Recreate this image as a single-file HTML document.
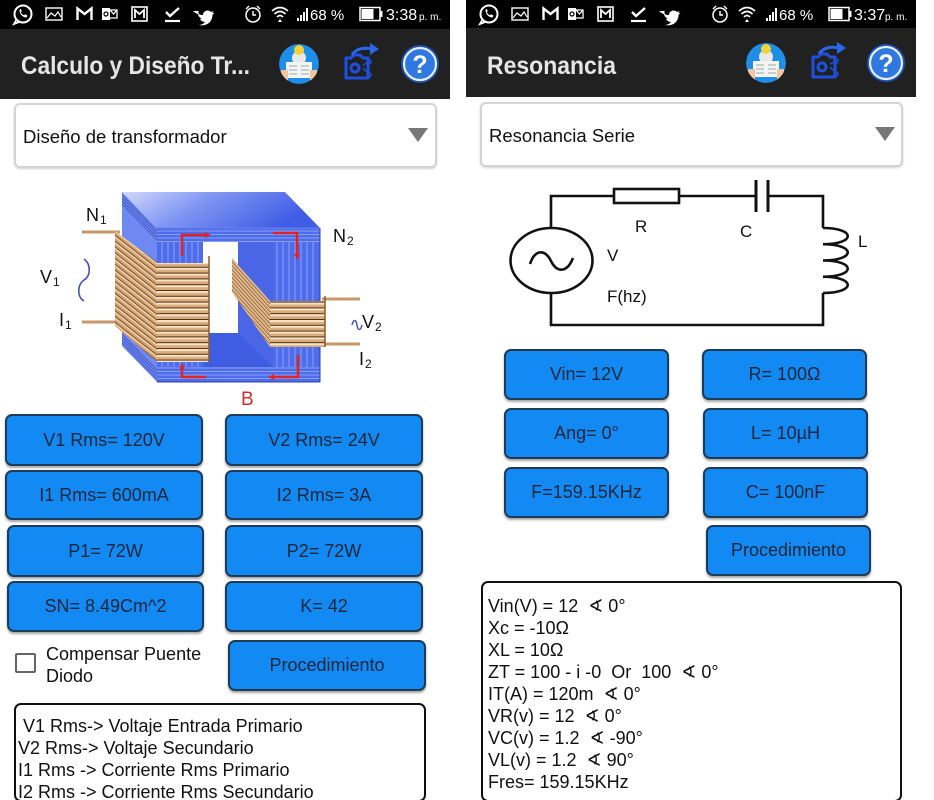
<!DOCTYPE html>
<html><head><meta charset="utf-8">
<style>
*{margin:0;padding:0;box-sizing:border-box}
html{width:934px;height:800px;overflow:hidden}
body{width:934px;height:800px;background:#fff;position:relative;overflow:hidden;font-family:"Liberation Sans","DejaVu Sans",sans-serif}
.sb{position:absolute;top:0;height:29px;background:#000}
.ab{position:absolute;background:#212121}
.spin{position:absolute;border:2px solid #d4d4d4;border-radius:6px;background:#fff;box-shadow:0 1px 2px rgba(0,0,0,.18)}
.btn{position:absolute;background:#1289f3;border:2px solid #1e3b58;border-radius:7px;box-shadow:0 2px 2px rgba(0,0,0,.35);color:#14273a;font-size:18px;display:flex;align-items:center;justify-content:center;white-space:nowrap}
.box{position:absolute;border:2px solid #111;border-radius:7px;background:#fff}
.cb{position:absolute;border:2px solid #666;border-radius:2px;background:#fff}
svg{position:absolute;left:0;top:0}
</style></head><body>

<!-- left panel chrome -->
<div class="sb" style="left:0;width:450px"></div>
<div class="ab" style="left:0;top:29px;width:450px;height:70px"></div>
<!-- right panel chrome -->
<div class="sb" style="left:466px;width:450px;height:28px"></div>
<div class="ab" style="left:466px;top:28px;width:450px;height:69px"></div>

<div class="spin" style="left:14px;top:103px;width:423px;height:65px"></div>
<div class="spin" style="left:480px;top:102px;width:423px;height:65px"></div>

<!-- left buttons -->
<div class="btn" style="left:5px;top:414px;width:198px;height:52px">V1 Rms= 120V</div>
<div class="btn" style="left:225px;top:414px;width:198px;height:52px">V2 Rms= 24V</div>
<div class="btn" style="left:5px;top:470px;width:198px;height:50px">I1 Rms= 600mA</div>
<div class="btn" style="left:225px;top:470px;width:198px;height:50px">I2 Rms= 3A</div>
<div class="btn" style="left:7px;top:525px;width:197px;height:52px">P1= 72W</div>
<div class="btn" style="left:225px;top:525px;width:198px;height:52px">P2= 72W</div>
<div class="btn" style="left:7px;top:581px;width:197px;height:51px">SN= 8.49Cm^2</div>
<div class="btn" style="left:225px;top:581px;width:198px;height:51px">K= 42</div>
<div class="btn" style="left:228px;top:640px;width:198px;height:51px">Procedimiento</div>
<div class="cb" style="left:15px;top:653px;width:21px;height:20px"></div>

<!-- right buttons -->
<div class="btn" style="left:504px;top:349px;width:165px;height:51px">Vin= 12V</div>
<div class="btn" style="left:702px;top:349px;width:165px;height:51px">R= 100Ω</div>
<div class="btn" style="left:504px;top:408px;width:165px;height:51px">Ang= 0°</div>
<div class="btn" style="left:703px;top:408px;width:165px;height:51px">L= 10µH</div>
<div class="btn" style="left:504px;top:467px;width:165px;height:51px">F=159.15KHz</div>
<div class="btn" style="left:703px;top:467px;width:165px;height:51px">C= 100nF</div>
<div class="btn" style="left:706px;top:525px;width:165px;height:51px">Procedimiento</div>

<div class="box" style="left:14px;top:703px;width:412px;height:99px"></div>
<div class="box" style="left:481px;top:581px;width:421px;height:221px"></div>

<svg width="934" height="800" viewBox="0 0 934 800" xmlns="http://www.w3.org/2000/svg" font-family="Liberation Sans, DejaVu Sans, sans-serif">
<defs>
  <linearGradient id="topG" x1="0" y1="0" x2="1" y2="0.3">
    <stop offset="0" stop-color="#d2d9fc"/>
    <stop offset="0.45" stop-color="#7f95f2"/>
    <stop offset="1" stop-color="#3f5de6"/>
  </linearGradient>
  <pattern id="coilH" width="10" height="5.8" patternUnits="userSpaceOnUse">
    <rect width="10" height="5.8" fill="#dcab78"/>
    <rect y="0" width="10" height="1" fill="#4a3018"/>
    <rect y="1" width="10" height="2" fill="#f7e3c8"/>
  </pattern>
  <pattern id="coilS" width="10" height="5.8" patternUnits="userSpaceOnUse" patternTransform="skewY(38)">
    <rect width="10" height="5.8" fill="#d4a06c"/>
    <rect y="0" width="10" height="1" fill="#5a3a1e"/>
    <rect y="1" width="10" height="2" fill="#efd2ae"/>
  </pattern>
  <pattern id="coilS2" width="10" height="4" patternUnits="userSpaceOnUse" patternTransform="skewY(48)">
    <rect width="10" height="4" fill="#d4a06c"/>
    <rect y="0" width="10" height="0.8" fill="#5a3a1e"/>
    <rect y="0.8" width="10" height="1.4" fill="#efd2ae"/>
  </pattern>
  <marker id="ah" markerWidth="6" markerHeight="6" refX="3" refY="3" orient="auto" markerUnits="userSpaceOnUse">
    <path d="M0,0 L6,3 L0,6z" fill="#e02424"/>
  </marker>
  <clipPath id="av1"><circle cx="299" cy="64" r="20"/></clipPath>
  <clipPath id="av2"><circle cx="766" cy="63" r="20"/></clipPath>
</defs>

<!-- ===== STATUS BAR LEFT ===== -->
<g fill="none" stroke="#fff">
  <circle cx="23" cy="14" r="8.5" stroke-width="2"/>
  <path d="M16.5,19.5 L14,24 L19,22" stroke-width="1.8"/>
  <path d="M19.5,10 c0,4 3,7.5 7,7.5 l1,-2 -2.5,-1.2 -1,1 c-1.5,-0.7 -2.6,-1.8 -3.2,-3.2 l1,-1 -1.2,-2.5z" fill="#fff" stroke="none"/>
  <rect x="46" y="8" width="16" height="12" stroke-width="1.4"/>
  <polyline points="47,18 51,13 55,16 58,12 61,17" stroke-width="1.2"/>
  <path d="M77.5,20 V8.5 L84.5,14 L91.5,8.5 V20" stroke-width="2.4"/>
  <rect x="102" y="8" width="8" height="12" fill="#fff" stroke="none"/>
  <circle cx="106" cy="14" r="2" stroke="#000" stroke-width="1.2"/>
  <path d="M110,10 H117 V18 H110 M110,10 L113.5,14 L117,10" stroke-width="1.3"/>
  <rect x="132" y="7" width="15" height="14" stroke-width="1.6"/>
  <path d="M135,18 V10 L139.5,14 L144,10 V18" stroke-width="1.8"/>
  <polyline points="166,12 170,16 179,8" stroke-width="2.4"/>
  <line x1="165" y1="21" x2="180" y2="21" stroke-width="2.2"/>
  <path d="M193,11 c3,3 7,4 10,4 c0,-4 5,-6 8,-3 l2.5,-1 -1.2,2.2 2.2,-0.3 -2,2 c0,7 -6,12 -14,10 c3,0 5,-1 6.5,-3 c-2,0 -4,-1 -5,-3 l2,0 c-2,-1 -4,-3 -4,-5 l2,1 c-2,-2 -2,-3 -1,-4z" fill="#fff" stroke="none"/>
  <circle cx="253" cy="15" r="7" stroke-width="1.5"/>
  <path d="M246,9 l3,-3 M260,9 l-3,-3 M253,11 V15 H256" stroke-width="1.4"/>
  <path d="M272,11 q8,-7 16,0 M274.5,14 q5.5,-5 11,0 M277,17 q3,-3 6,0" stroke-width="1.6"/>
  <path d="M278,22 l2,-3 2,3z" fill="#fff" stroke="none"/>
  <g fill="#fff" stroke="none">
    <rect x="297" y="18" width="2" height="3"/><rect x="300" y="15" width="2" height="6"/><rect x="303" y="12" width="2" height="9"/><rect x="306" y="8" width="2" height="13"/>
  </g>
  <rect x="360" y="7.5" width="20" height="13" stroke-width="1.5"/>
  <rect x="361.5" y="9" width="12" height="10" fill="#fff" stroke="none"/>
  <rect x="380" y="11" width="2.5" height="6" fill="#fff" stroke="none"/>
</g>
<text x="310" y="20" font-size="15" fill="#fff">68 %</text>
<text x="386" y="20" font-size="16" fill="#fff">3:38</text>
<text x="419" y="20" font-size="10" fill="#fff">p. m.</text>

<!-- ===== STATUS BAR RIGHT ===== -->
<g transform="translate(466,0)" fill="none" stroke="#fff">
  <circle cx="23" cy="14" r="8.5" stroke-width="2"/>
  <path d="M16.5,19.5 L14,24 L19,22" stroke-width="1.8"/>
  <path d="M19.5,10 c0,4 3,7.5 7,7.5 l1,-2 -2.5,-1.2 -1,1 c-1.5,-0.7 -2.6,-1.8 -3.2,-3.2 l1,-1 -1.2,-2.5z" fill="#fff" stroke="none"/>
  <rect x="46" y="8" width="16" height="12" stroke-width="1.4"/>
  <polyline points="47,18 51,13 55,16 58,12 61,17" stroke-width="1.2"/>
  <path d="M77.5,20 V8.5 L84.5,14 L91.5,8.5 V20" stroke-width="2.4"/>
  <rect x="102" y="8" width="8" height="12" fill="#fff" stroke="none"/>
  <circle cx="106" cy="14" r="2" stroke="#000" stroke-width="1.2"/>
  <path d="M110,10 H117 V18 H110 M110,10 L113.5,14 L117,10" stroke-width="1.3"/>
  <rect x="132" y="7" width="15" height="14" stroke-width="1.6"/>
  <path d="M135,18 V10 L139.5,14 L144,10 V18" stroke-width="1.8"/>
  <polyline points="166,12 170,16 179,8" stroke-width="2.4"/>
  <line x1="165" y1="21" x2="180" y2="21" stroke-width="2.2"/>
  <path d="M193,11 c3,3 7,4 10,4 c0,-4 5,-6 8,-3 l2.5,-1 -1.2,2.2 2.2,-0.3 -2,2 c0,7 -6,12 -14,10 c3,0 5,-1 6.5,-3 c-2,0 -4,-1 -5,-3 l2,0 c-2,-1 -4,-3 -4,-5 l2,1 c-2,-2 -2,-3 -1,-4z" fill="#fff" stroke="none"/>
  <circle cx="254" cy="15" r="7" stroke-width="1.5"/>
  <path d="M247,9 l3,-3 M261,9 l-3,-3 M254,11 V15 H257" stroke-width="1.4"/>
  <path d="M273,11 q8,-7 16,0 M275.5,14 q5.5,-5 11,0 M278,17 q3,-3 6,0" stroke-width="1.6"/>
  <path d="M279,22 l2,-3 2,3z" fill="#fff" stroke="none"/>
  <g fill="#fff" stroke="none">
    <rect x="300" y="18" width="2" height="3"/><rect x="303" y="15" width="2" height="6"/><rect x="306" y="12" width="2" height="9"/><rect x="309" y="8" width="2" height="13"/>
  </g>
  <rect x="363" y="7.5" width="20" height="13" stroke-width="1.5"/>
  <rect x="364.5" y="9" width="12" height="10" fill="#fff" stroke="none"/>
  <rect x="383" y="11" width="2.5" height="6" fill="#fff" stroke="none"/>
</g>
<text x="779" y="20" font-size="15" fill="#fff">68 %</text>
<text x="854" y="20" font-size="16" fill="#fff">3:37</text>
<text x="885" y="20" font-size="10" fill="#fff">p. m.</text>

<!-- ===== APP BAR TITLES ===== -->
<text x="21" y="74" font-size="25" font-weight="bold" fill="#e6e6e6" textLength="229" lengthAdjust="spacingAndGlyphs">Calculo y Diseño Tr...</text>
<text x="487" y="74" font-size="25" font-weight="bold" fill="#e6e6e6" textLength="129" lengthAdjust="spacingAndGlyphs">Resonancia</text>

<!-- ===== APP BAR ICONS LEFT ===== -->
<g clip-path="url(#av1)">
  <circle cx="299" cy="64" r="20" fill="#1f8ee8"/>
  <circle cx="299" cy="58" r="7" fill="#e8e8e8"/>
  <circle cx="299" cy="50" r="5" fill="#f6d23a"/>
  <rect x="286" y="62" width="26" height="16" fill="#f4f4f4"/>
  <path d="M289,66 h8 M289,70 h8 M289,74 h8 M301,66 h8 M301,70 h8 M301,74 h8" stroke="#9aa" stroke-width="1"/>
  <rect x="281" y="70" width="7" height="12" fill="#f2c69c"/>
  <rect x="310" y="70" width="7" height="12" fill="#f2c69c"/>
</g>
<g fill="none" stroke="#1d4fe0" stroke-width="3">
  <path d="M346,58 h5 l3,-3 h6 l3,3 h5 v20 h-22z" stroke-linejoin="round"/>
  <circle cx="355" cy="68" r="4"/>
  <path d="M363,65 l6,-3 M363,68 l6,6" stroke-width="1.5"/>
  <circle cx="369" cy="62" r="2" stroke-width="1.5"/>
  <circle cx="369" cy="75" r="2" stroke-width="1.5"/>
  <path d="M352,55 q6,-9 20,-6" stroke="#2a66ee"/>
</g>
<path d="M370,43 L379,49 L370,55z" fill="#2a66ee"/>
<circle cx="420" cy="64" r="19" fill="#1c52b4"/>
<circle cx="420" cy="64" r="16" fill="#2e78e0" stroke="#e6eefb" stroke-width="2.2"/>
<text x="420" y="73" font-size="25" font-weight="bold" fill="#fff" text-anchor="middle">?</text>

<!-- ===== APP BAR ICONS RIGHT ===== -->
<g clip-path="url(#av2)">
  <circle cx="766" cy="63" r="20" fill="#1f8ee8"/>
  <circle cx="766" cy="57" r="7" fill="#e8e8e8"/>
  <circle cx="766" cy="49" r="5" fill="#f6d23a"/>
  <rect x="753" y="61" width="26" height="16" fill="#f4f4f4"/>
  <path d="M756,65 h8 M756,69 h8 M756,73 h8 M768,65 h8 M768,69 h8 M768,73 h8" stroke="#9aa" stroke-width="1"/>
  <rect x="748" y="69" width="7" height="12" fill="#f2c69c"/>
  <rect x="777" y="69" width="7" height="12" fill="#f2c69c"/>
</g>
<g fill="none" stroke="#1d4fe0" stroke-width="3">
  <path d="M813,57 h5 l3,-3 h6 l3,3 h5 v20 h-22z" stroke-linejoin="round"/>
  <circle cx="822" cy="67" r="4"/>
  <path d="M830,64 l6,-3 M830,67 l6,6" stroke-width="1.5"/>
  <circle cx="836" cy="61" r="2" stroke-width="1.5"/>
  <circle cx="836" cy="74" r="2" stroke-width="1.5"/>
  <path d="M819,54 q6,-9 20,-6" stroke="#2a66ee"/>
</g>
<path d="M837,42 L846,48 L837,54z" fill="#2a66ee"/>
<circle cx="886" cy="63" r="19" fill="#1c52b4"/>
<circle cx="886" cy="63" r="16" fill="#2e78e0" stroke="#e6eefb" stroke-width="2.2"/>
<text x="886" y="72" font-size="25" font-weight="bold" fill="#fff" text-anchor="middle">?</text>

<!-- ===== SPINNERS ===== -->
<text x="23" y="143" font-size="18.5" fill="#111">Diseño de transformador</text>
<path d="M408,128 L428,128 L418,142z" fill="#777"/>
<text x="489" y="142" font-size="18.5" fill="#111">Resonancia Serie</text>
<path d="M875,127 L895,127 L885,141z" fill="#777"/>

<!-- ===== TRANSFORMER ===== -->
<polygon points="122,192 157,228 157,382 122,346" fill="#6f88f2"/>
<g stroke="#3b50b8" stroke-width="0.8">
  <line x1="122" y1="195" x2="157" y2="231"/><line x1="122" y1="198" x2="157" y2="234"/><line x1="122" y1="201" x2="157" y2="237"/><line x1="122" y1="204" x2="157" y2="240"/>
  <line x1="122" y1="334" x2="157" y2="370"/><line x1="122" y1="337" x2="157" y2="373"/><line x1="122" y1="340" x2="157" y2="376"/><line x1="122" y1="343" x2="157" y2="379"/>
</g>
<polygon points="122,192 285,192 320,228 157,228" fill="url(#topG)"/>
<rect x="157" y="228" width="163" height="154" fill="#4e6cec"/>
<g stroke="#9fb0f6" stroke-width="0.8">
  <line x1="157" y1="231" x2="320" y2="231"/><line x1="157" y1="234.5" x2="320" y2="234.5"/><line x1="157" y1="238" x2="320" y2="238"/><line x1="157" y1="241.5" x2="320" y2="241.5"/>
  <line x1="157" y1="368" x2="320" y2="368"/><line x1="157" y1="371.5" x2="320" y2="371.5"/><line x1="157" y1="375" x2="320" y2="375"/><line x1="157" y1="378.5" x2="320" y2="378.5"/>
  <line x1="162" y1="242" x2="162" y2="367"/><line x1="168" y1="242" x2="168" y2="367"/><line x1="174" y1="242" x2="174" y2="367"/><line x1="180" y1="242" x2="180" y2="367"/><line x1="186" y1="242" x2="186" y2="367"/><line x1="192" y1="242" x2="192" y2="367"/><line x1="198" y1="242" x2="198" y2="367"/>
  <line x1="277" y1="242" x2="277" y2="367"/><line x1="283" y1="242" x2="283" y2="367"/><line x1="289" y1="242" x2="289" y2="367"/><line x1="295" y1="242" x2="295" y2="367"/><line x1="301" y1="242" x2="301" y2="367"/><line x1="307" y1="242" x2="307" y2="367"/><line x1="313" y1="242" x2="313" y2="367"/>
</g>
<rect x="238" y="242" width="35" height="125" fill="#4a66e6"/>
<rect x="203" y="242" width="35" height="91" fill="#fff"/>
<polygon points="203,333 238,333 273,367 203,367" fill="#3f5de0"/>
<line x1="320" y1="228" x2="320" y2="382" stroke="#2c40a8" stroke-width="1"/>
<line x1="157" y1="382" x2="320" y2="382" stroke="#2c40a8" stroke-width="1"/>
<line x1="157" y1="228" x2="320" y2="228" stroke="#6d82e6" stroke-width="1"/>

<g stroke="#c99868" stroke-width="3">
  <line x1="82" y1="232" x2="120" y2="232"/>
  <line x1="82" y1="322" x2="120" y2="322"/>
  <line x1="322" y1="299" x2="360" y2="299"/>
  <line x1="322" y1="344" x2="360" y2="344"/>
</g>
<polygon points="115,231 157,262 157,362 115,326" fill="url(#coilS)"/>
<rect x="157" y="263" width="52" height="99" fill="url(#coilH)"/>
<line x1="209" y1="256" x2="209" y2="362" stroke="#8a5a30" stroke-width="1.5"/>
<polygon points="232,258 270,301 270,347 232,292" fill="url(#coilS2)"/>
<rect x="270" y="301" width="55" height="46" fill="url(#coilH)"/>
<line x1="325" y1="296" x2="325" y2="347" stroke="#8a5a30" stroke-width="1.5"/>

<g fill="none" stroke="#e02424" stroke-width="2.5">
  <path d="M182,256 V235 H208" marker-end="url(#ah)"/>
  <path d="M273,233 H297 V257" marker-end="url(#ah)"/>
  <path d="M298,355 V377 H271" marker-end="url(#ah)"/>
  <path d="M206,377 H182 V366" marker-end="url(#ah)"/>
</g>

<g font-size="18" fill="#111">
  <text x="86" y="221">N</text><text x="100" y="224" font-size="12">1</text>
  <text x="40" y="283">V</text><text x="53" y="286" font-size="12">1</text>
  <text x="59" y="326">I</text><text x="65" y="329" font-size="12">1</text>
  <text x="333" y="242">N</text><text x="347" y="245" font-size="12">2</text>
  <text x="362" y="328">V</text><text x="375" y="331" font-size="12">2</text>
  <text x="359" y="365">I</text><text x="365" y="368" font-size="12">2</text>
</g>
<path d="M84,259 C91,264 91,276 84,280 C77,285 77,297 84,301" fill="none" stroke="#4450c0" stroke-width="1.6"/>
<path d="M352,325 c1.5,-6 4,-6 5,0 c1,6 3.5,6 5,0" fill="none" stroke="#4450c0" stroke-width="1.5"/>
<text x="241" y="405" font-size="19" fill="#d42a2a">B</text>

<!-- ===== CIRCUIT ===== -->
<g fill="none" stroke="#111" stroke-width="2.6">
  <path d="M551,228 V196 H614"/>
  <rect x="614" y="189" width="65" height="14"/>
  <path d="M679,196 H756"/>
  <path d="M756,180 V212 M768,180 V212" stroke-width="3"/>
  <path d="M768,196 H823 V228"/>
  <path d="M823,228 C856,228 856,244.25 823,244.25 C856,244.25 856,260.5 823,260.5 C856,260.5 856,276.75 823,276.75 C856,276.75 856,293 823,293"/>
  <path d="M823,293 V325 H551 V293"/>
  <ellipse cx="551.5" cy="260.5" rx="41" ry="32.5"/>
  <path d="M530,264 C535,249 545,249 551,261 C557,273 567,273 573,258"/>
</g>
<g font-size="17" fill="#111">
  <text x="635" y="232">R</text>
  <text x="740" y="237">C</text>
  <text x="858" y="247">L</text>
  <text x="607" y="261">V</text>
  <text x="607" y="302">F(hz)</text>
</g>

<text x="46" y="660" font-size="18" fill="#111">Compensar Puente</text>
<text x="46" y="682" font-size="18" fill="#111">Diodo</text>

<g font-size="18" fill="#111">
  <text x="23" y="732">V1 Rms-&gt; Voltaje Entrada Primario</text>
  <text x="18" y="754">V2 Rms-&gt; Voltaje Secundario</text>
  <text x="18" y="776">I1 Rms -&gt; Corriente Rms Primario</text>
  <text x="18" y="798">I2 Rms -&gt; Corriente Rms Secundario</text>
</g>

<g font-size="18" fill="#111">
  <text x="488" y="612">Vin(V) = 12 &#160;∢ 0°</text>
  <text x="488" y="634">Xc = -10Ω</text>
  <text x="488" y="656">XL = 10Ω</text>
  <text x="488" y="678">ZT = 100 - i -0 &#160;Or &#160;100 &#160;∢ 0°</text>
  <text x="488" y="700">IT(A) = 120m &#160;∢ 0°</text>
  <text x="488" y="722">VR(v) = 12 &#160;∢ 0°</text>
  <text x="488" y="744">VC(v) = 1.2 &#160;∢ -90°</text>
  <text x="488" y="766">VL(v) = 1.2 &#160;∢ 90°</text>
  <text x="488" y="788">Fres= 159.15KHz</text>
</g>
</svg>
</body></html>
